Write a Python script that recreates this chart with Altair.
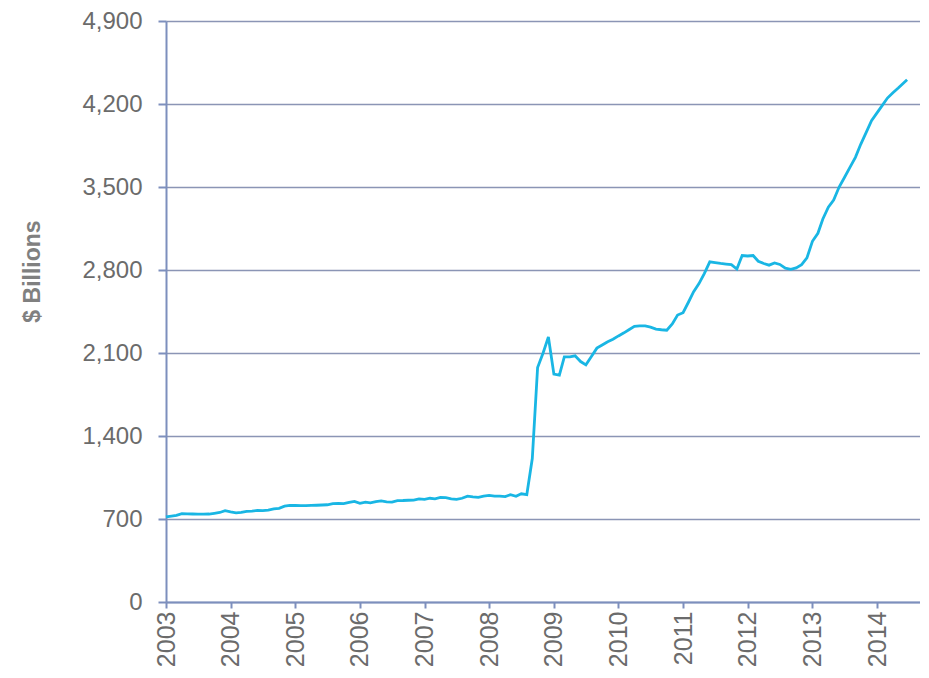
import altair as alt
import pandas as pd

# Monthly values, $ billions, Jan 2003 .. Jun 2014
values = [
    717, 725, 730, 745, 743, 742, 741, 741, 742, 748, 755, 770,      # 2003
    760, 752, 756, 765, 767, 772, 770, 774, 785, 790, 808, 815,      # 2004
    814, 813, 813, 815, 816, 818, 820, 830, 832, 830, 840, 849,      # 2005
    832, 842, 836, 847, 852, 845, 843, 855, 856, 858, 860, 870,      # 2006
    866, 875, 870, 882, 880, 870, 866, 875, 893, 887, 882, 893,      # 2007
    899, 893, 893, 889, 905, 892, 913, 906, 1210, 1978, 2100, 2235,  # 2008
    1922, 1914, 2067, 2067, 2076, 2028, 2000, 2070, 2141, 2168, 2195, 2216,  # 2009
    2244, 2270, 2296, 2325, 2328, 2328, 2318, 2302, 2296, 2292, 2345, 2420,  # 2010
    2440, 2530, 2615, 2685, 2770, 2869, 2862, 2855, 2850, 2845, 2808, 2922,  # 2011
    2918, 2922, 2874, 2855, 2841, 2860, 2847, 2815, 2805, 2818, 2845, 2902,  # 2012
    3042, 3110, 3230, 3330, 3390, 3500, 3580, 3665, 3750, 3860, 3960, 4060,  # 2013
    4125, 4190, 4250, 4295, 4335, 4405,                                      # 2014
]
dates = pd.date_range("2003-01-01", periods=len(values), freq="MS").strftime("%Y-%m-%d").tolist()
dates[-1] = "2014-06-20"

years = list(range(2003, 2015))
y_ticks = [0, 700, 1400, 2100, 2800, 3500, 4200, 4900]

df = pd.DataFrame({"date": dates, "value": values})

grid_col = "#8b95b5"
axis_col = "#7d8fbd"
label_col = "#6b6b6b"
font = "Liberation Sans"

chart = alt.Chart(df).mark_line(color="#19b6e4", strokeWidth=2.8).encode(
    x=alt.X(
        "date:T",
        scale=alt.Scale(
            type="utc",
            domain=[alt.DateTime(year=2003, month=1, date=1, utc=True),
                    alt.DateTime(year=2014, month=9, date=1, utc=True)],
        ),
        axis=alt.Axis(
            values=[alt.DateTime(year=y, month=1, date=1, utc=True) for y in years],
            labelExpr="utcFormat(datum.value, '%Y')",
            labelAngle=270,
            labelFontSize=25,
            labelFont=font,
            labelColor=label_col,
            labelPadding=3,
            tickSize=6,
            tickColor=axis_col,
            tickWidth=2,
            domainColor=axis_col,
            domainWidth=2,
            grid=False,
            title=None,
        ),
    ),
    y=alt.Y(
        "value:Q",
        scale=alt.Scale(domain=[0, 4900], nice=False),
        axis=alt.Axis(
            values=y_ticks,
            format=",d",
            labelFontSize=24,
            labelFont=font,
            labelColor=label_col,
            labelPadding=16,
            tickSize=8,
            tickColor=axis_col,
            tickWidth=2,
            domainColor=axis_col,
            domainWidth=2,
            grid=True,
            gridColor=grid_col,
            gridWidth=1.6,
            title="$ Billions",
            titleFont=font,
            titleFontSize=23,
            titleFontWeight="bold",
            titleColor="#808080",
            titleAngle=270,
            titleAlign="center",
            titleBaseline="middle",
            titleX=-134,
            titleY=250,
        ),
    ),
).properties(
    width=754,
    height=581,
    autosize=alt.AutoSizeParams(type="none"),
    padding={"left": 158, "top": 13, "right": 0, "bottom": 66},
).configure_view(
    stroke=grid_col,
    strokeWidth=2,
).configure(background="white")

chart.save("out.html", embed_options={"renderer": "svg", "actions": False})
